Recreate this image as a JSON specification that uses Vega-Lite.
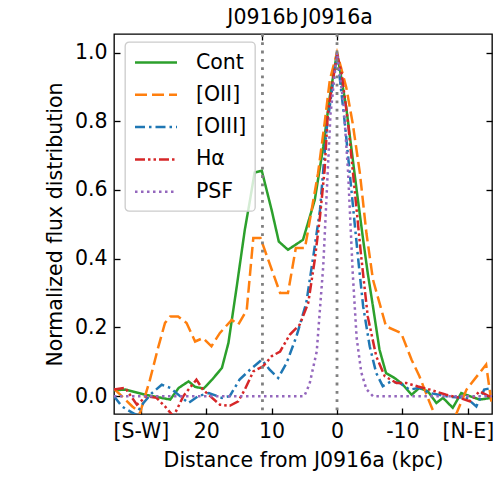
{
  "$schema": "https://vega.github.io/schema/vega-lite/v6.json",
  "width": 378,
  "height": 380,
  "autosize": {"type": "none"},
  "padding": {"left": 114, "top": 34, "right": 8, "bottom": 86},
  "background": "white",
  "config": {
    "font": "DejaVu Sans",
    "view": {"stroke": "black", "strokeWidth": 1.33},
    "axis": {
      "grid": false,
      "domain": false,
      "tickSize": -6,
      "tickColor": "black",
      "tickWidth": 1.33,
      "labelFontSize": 20.5,
      "labelColor": "black",
      "labelPadding": 13,
      "titleFontSize": 20.5,
      "titleFontWeight": "normal",
      "titleColor": "black"
    },
    "legend": {
      "orient": "none",
      "legendX": 11,
      "legendY": 8,
      "padding": 8.5,
      "cornerRadius": 4,
      "fillColor": "rgba(255,255,255,0.8)",
      "strokeColor": "#cccccc",
      "strokeWidth": 1.33,
      "symbolType": "M-1,0H3",
      "symbolSize": 441,
      "symbolStrokeWidth": 2.5,
      "labelFontSize": 20.5,
      "labelColor": "black",
      "labelOffset": 38.4,
      "rowPadding": 9.3
    }
  },
  "datasets": {
    "profiles": [
      {"s": "Cont", "x": 34.1, "y": 0.017}, {"s": "Cont", "x": 32.4, "y": 0.019}, {"s": "Cont", "x": 29.3, "y": 0.004},
      {"s": "Cont", "x": 25.5, "y": -0.01}, {"s": "Cont", "x": 24.2, "y": 0.024}, {"s": "Cont", "x": 22.7, "y": 0.043},
      {"s": "Cont", "x": 21.7, "y": 0.027}, {"s": "Cont", "x": 20.4, "y": 0.022}, {"s": "Cont", "x": 19.1, "y": 0.048},
      {"s": "Cont", "x": 17.6, "y": 0.082}, {"s": "Cont", "x": 16.6, "y": 0.155}, {"s": "Cont", "x": 15.4, "y": 0.31},
      {"s": "Cont", "x": 14.1, "y": 0.484}, {"s": "Cont", "x": 13.3, "y": 0.571}, {"s": "Cont", "x": 12.6, "y": 0.651},
      {"s": "Cont", "x": 11.5, "y": 0.656}, {"s": "Cont", "x": 10.0, "y": 0.542}, {"s": "Cont", "x": 8.9, "y": 0.45},
      {"s": "Cont", "x": 7.5, "y": 0.426}, {"s": "Cont", "x": 5.2, "y": 0.455}, {"s": "Cont", "x": 3.4, "y": 0.571},
      {"s": "Cont", "x": 2.1, "y": 0.726}, {"s": "Cont", "x": 1.1, "y": 0.872}, {"s": "Cont", "x": 0, "y": 1.0},
      {"s": "Cont", "x": -1.4, "y": 0.842}, {"s": "Cont", "x": -3.0, "y": 0.6}, {"s": "Cont", "x": -4.0, "y": 0.455},
      {"s": "Cont", "x": -4.7, "y": 0.358}, {"s": "Cont", "x": -5.5, "y": 0.261}, {"s": "Cont", "x": -6.5, "y": 0.135},
      {"s": "Cont", "x": -7.5, "y": 0.067}, {"s": "Cont", "x": -8.8, "y": 0.053}, {"s": "Cont", "x": -10.0, "y": 0.035},
      {"s": "Cont", "x": -11.4, "y": 0.004}, {"s": "Cont", "x": -12.6, "y": 0.024}, {"s": "Cont", "x": -13.9, "y": 0.014},
      {"s": "Cont", "x": -15.2, "y": -0.02}, {"s": "Cont", "x": -16.2, "y": -0.005}, {"s": "Cont", "x": -17.7, "y": -0.034},
      {"s": "Cont", "x": -19.0, "y": 0.009}, {"s": "Cont", "x": -20.3, "y": 0.0}, {"s": "Cont", "x": -21.8, "y": -0.01},
      {"s": "Cont", "x": -23.7, "y": -0.005},

      {"s": "[OII]", "x": 34.1, "y": 0.021}, {"s": "[OII]", "x": 32.9, "y": 0.0}, {"s": "[OII]", "x": 31.3, "y": -0.03},
      {"s": "[OII]", "x": 30.1, "y": -0.048}, {"s": "[OII]", "x": 28.6, "y": 0.048}, {"s": "[OII]", "x": 27.3, "y": 0.145},
      {"s": "[OII]", "x": 26.3, "y": 0.213}, {"s": "[OII]", "x": 25.5, "y": 0.232}, {"s": "[OII]", "x": 24.3, "y": 0.232},
      {"s": "[OII]", "x": 23.0, "y": 0.213}, {"s": "[OII]", "x": 21.7, "y": 0.159}, {"s": "[OII]", "x": 20.5, "y": 0.169},
      {"s": "[OII]", "x": 19.2, "y": 0.145}, {"s": "[OII]", "x": 17.9, "y": 0.184}, {"s": "[OII]", "x": 16.1, "y": 0.222},
      {"s": "[OII]", "x": 15.1, "y": 0.208}, {"s": "[OII]", "x": 13.8, "y": 0.251}, {"s": "[OII]", "x": 12.8, "y": 0.46},
      {"s": "[OII]", "x": 11.7, "y": 0.46}, {"s": "[OII]", "x": 8.7, "y": 0.3}, {"s": "[OII]", "x": 7.5, "y": 0.3},
      {"s": "[OII]", "x": 6.3, "y": 0.431}, {"s": "[OII]", "x": 4.9, "y": 0.431}, {"s": "[OII]", "x": 2.9, "y": 0.649},
      {"s": "[OII]", "x": 1.9, "y": 0.794}, {"s": "[OII]", "x": 1.1, "y": 0.92}, {"s": "[OII]", "x": 0, "y": 1.0},
      {"s": "[OII]", "x": -1.4, "y": 0.9}, {"s": "[OII]", "x": -2.4, "y": 0.794}, {"s": "[OII]", "x": -3.5, "y": 0.649},
      {"s": "[OII]", "x": -4.5, "y": 0.474}, {"s": "[OII]", "x": -5.5, "y": 0.339}, {"s": "[OII]", "x": -7.5, "y": 0.203},
      {"s": "[OII]", "x": -9.8, "y": 0.184}, {"s": "[OII]", "x": -11.4, "y": 0.106}, {"s": "[OII]", "x": -12.6, "y": 0.058},
      {"s": "[OII]", "x": -14.2, "y": -0.02}, {"s": "[OII]", "x": -15.5, "y": -0.08}, {"s": "[OII]", "x": -17.5, "y": -0.085},
      {"s": "[OII]", "x": -19.8, "y": 0.019}, {"s": "[OII]", "x": -22.8, "y": 0.092}, {"s": "[OII]", "x": -23.7, "y": -0.03},

      {"s": "[OIII]", "x": 34.1, "y": 0.0}, {"s": "[OIII]", "x": 32.9, "y": -0.03}, {"s": "[OIII]", "x": 30.8, "y": -0.054},
      {"s": "[OIII]", "x": 29.6, "y": -0.02}, {"s": "[OIII]", "x": 28.3, "y": 0.009}, {"s": "[OIII]", "x": 26.8, "y": 0.033},
      {"s": "[OIII]", "x": 25.5, "y": 0.024}, {"s": "[OIII]", "x": 24.0, "y": 0.0}, {"s": "[OIII]", "x": 22.7, "y": -0.02},
      {"s": "[OIII]", "x": 21.2, "y": 0.0}, {"s": "[OIII]", "x": 19.6, "y": 0.009}, {"s": "[OIII]", "x": 17.6, "y": -0.005},
      {"s": "[OIII]", "x": 16.4, "y": 0.0}, {"s": "[OIII]", "x": 14.9, "y": 0.048}, {"s": "[OIII]", "x": 13.3, "y": 0.077},
      {"s": "[OIII]", "x": 11.5, "y": 0.106}, {"s": "[OIII]", "x": 10.3, "y": 0.077}, {"s": "[OIII]", "x": 9.0, "y": 0.053},
      {"s": "[OIII]", "x": 7.7, "y": 0.097}, {"s": "[OIII]", "x": 6.2, "y": 0.174}, {"s": "[OIII]", "x": 4.7, "y": 0.271},
      {"s": "[OIII]", "x": 3.7, "y": 0.397}, {"s": "[OIII]", "x": 2.6, "y": 0.542}, {"s": "[OIII]", "x": 1.6, "y": 0.775},
      {"s": "[OIII]", "x": 0, "y": 0.998}, {"s": "[OIII]", "x": -1.2, "y": 0.794}, {"s": "[OIII]", "x": -2.2, "y": 0.6},
      {"s": "[OIII]", "x": -3.2, "y": 0.406}, {"s": "[OIII]", "x": -4.0, "y": 0.261}, {"s": "[OIII]", "x": -5.0, "y": 0.145},
      {"s": "[OIII]", "x": -6.0, "y": 0.067}, {"s": "[OIII]", "x": -7.0, "y": 0.029}, {"s": "[OIII]", "x": -8.3, "y": 0.043},
      {"s": "[OIII]", "x": -9.6, "y": 0.038}, {"s": "[OIII]", "x": -11.1, "y": 0.019}, {"s": "[OIII]", "x": -12.6, "y": 0.024},
      {"s": "[OIII]", "x": -14.2, "y": 0.009}, {"s": "[OIII]", "x": -17.2, "y": -0.002}, {"s": "[OIII]", "x": -19.8, "y": -0.005},
      {"s": "[OIII]", "x": -21.3, "y": -0.03}, {"s": "[OIII]", "x": -22.5, "y": 0.019}, {"s": "[OIII]", "x": -23.7, "y": 0.024},

      {"s": "Hα", "x": 34.1, "y": 0.019}, {"s": "Hα", "x": 32.4, "y": 0.024}, {"s": "Hα", "x": 30.6, "y": -0.025},
      {"s": "Hα", "x": 29.1, "y": 0.0}, {"s": "Hα", "x": 27.6, "y": -0.005}, {"s": "Hα", "x": 26.3, "y": -0.03},
      {"s": "Hα", "x": 25.0, "y": -0.059}, {"s": "Hα", "x": 23.5, "y": 0.0}, {"s": "Hα", "x": 21.5, "y": 0.048},
      {"s": "Hα", "x": 20.5, "y": 0.019}, {"s": "Hα", "x": 19.4, "y": 0.0}, {"s": "Hα", "x": 17.9, "y": -0.025},
      {"s": "Hα", "x": 16.4, "y": -0.028}, {"s": "Hα", "x": 15.1, "y": -0.015}, {"s": "Hα", "x": 14.1, "y": 0.019},
      {"s": "Hα", "x": 12.8, "y": 0.072}, {"s": "Hα", "x": 11.3, "y": 0.087}, {"s": "Hα", "x": 10.0, "y": 0.116},
      {"s": "Hα", "x": 8.7, "y": 0.13}, {"s": "Hα", "x": 7.2, "y": 0.179}, {"s": "Hα", "x": 5.7, "y": 0.208},
      {"s": "Hα", "x": 4.4, "y": 0.271}, {"s": "Hα", "x": 3.4, "y": 0.397}, {"s": "Hα", "x": 2.6, "y": 0.523},
      {"s": "Hα", "x": 1.9, "y": 0.658}, {"s": "Hα", "x": 1.4, "y": 0.823}, {"s": "Hα", "x": 0, "y": 0.995},
      {"s": "Hα", "x": -0.7, "y": 0.94}, {"s": "Hα", "x": -1.7, "y": 0.794}, {"s": "Hα", "x": -2.7, "y": 0.6},
      {"s": "Hα", "x": -3.7, "y": 0.406}, {"s": "Hα", "x": -4.7, "y": 0.232}, {"s": "Hα", "x": -6.0, "y": 0.116},
      {"s": "Hα", "x": -7.3, "y": 0.058}, {"s": "Hα", "x": -9.1, "y": 0.038}, {"s": "Hα", "x": -10.6, "y": 0.038},
      {"s": "Hα", "x": -12.4, "y": 0.028}, {"s": "Hα", "x": -14.2, "y": 0.019}, {"s": "Hα", "x": -16.7, "y": 0.004},
      {"s": "Hα", "x": -18.7, "y": -0.005}, {"s": "Hα", "x": -20.3, "y": -0.015}, {"s": "Hα", "x": -21.8, "y": 0.014},
      {"s": "Hα", "x": -23.7, "y": -0.005},

      {"s": "PSF", "x": 34.1, "y": 0.0}, {"s": "PSF", "x": 5.0, "y": 0.0}, {"s": "PSF", "x": 4.2, "y": 0.035},
      {"s": "PSF", "x": 3.1, "y": 0.13}, {"s": "PSF", "x": 2.1, "y": 0.38}, {"s": "PSF", "x": 1.0, "y": 0.82},
      {"s": "PSF", "x": 0, "y": 1.0}, {"s": "PSF", "x": -1.0, "y": 0.85}, {"s": "PSF", "x": -1.7, "y": 0.65},
      {"s": "PSF", "x": -2.4, "y": 0.36}, {"s": "PSF", "x": -3.0, "y": 0.17}, {"s": "PSF", "x": -3.7, "y": 0.07},
      {"s": "PSF", "x": -4.5, "y": 0.02}, {"s": "PSF", "x": -5.5, "y": 0.0}, {"s": "PSF", "x": -23.7, "y": 0.0}
    ],
    "markers": [{"x": 11.4, "name": "J0916b"}, {"x": 0, "name": "J0916a"}]
  },
  "layer": [
    {
      "data": {"name": "profiles"},
      "mark": {"type": "line", "strokeWidth": 2.5, "clip": true},
      "encoding": {
        "x": {
          "field": "x", "type": "quantitative",
          "scale": {"domain": [-23.7, 34.1], "reverse": true, "nice": false, "zero": false},
          "axis": {
            "orient": "bottom",
            "values": [30, 20, 10, 0, -10, -20],
            "labelExpr": "datum.value == 30 ? '[S-W]' : datum.value == -20 ? '[N-E]' : '' + datum.value",
            "title": "Distance from J0916a (kpc)",
            "titlePadding": 9
          }
        },
        "y": {
          "field": "y", "type": "quantitative",
          "scale": {"domain": [-0.052, 1.054], "nice": false, "zero": false},
          "axis": {
            "orient": "left",
            "values": [0, 0.2, 0.4, 0.6, 0.8, 1.0],
            "format": ".1f",
            "title": "Normalized flux distribution",
            "titlePadding": 9
          }
        },
        "color": {
          "field": "s", "type": "nominal",
          "scale": {
            "domain": ["Cont", "[OII]", "[OIII]", "Hα", "PSF"],
            "range": ["#2ca02c", "#ff7f0e", "#1f77b4", "#d62728", "#9467bd"]
          },
          "legend": {"title": null}
        },
        "strokeDash": {
          "field": "s", "type": "nominal",
          "scale": {
            "domain": ["Cont", "[OII]", "[OIII]", "Hα", "PSF"],
            "range": [[1, 0], [12, 5], [10, 4, 2.5, 4], [10, 3, 2.5, 3, 2.5, 3], [2.5, 3.5]]
          },
          "legend": {"title": null}
        }
      }
    },
    {
      "data": {"name": "markers"},
      "mark": {"type": "rule", "color": "#808080", "strokeWidth": 2.8, "strokeDash": [2.8, 5.5]},
      "encoding": {
        "x": {
          "field": "x", "type": "quantitative",
          "axis": {
            "orient": "top",
            "values": [11.4, 0],
            "labelExpr": "datum.value == 0 ? 'J0916a' : 'J0916b'",
            "title": null
          }
        }
      }
    },
    {
      "data": {"name": "markers"},
      "mark": {"type": "point", "opacity": 0},
      "encoding": {
        "x": {"field": "x", "type": "quantitative", "axis": null},
        "y": {
          "datum": 0, "type": "quantitative",
          "axis": {"orient": "right", "values": [0, 0.2, 0.4, 0.6, 0.8, 1.0], "labels": false, "title": null}
        }
      }
    }
  ],
  "resolve": {"axis": {"x": "independent", "y": "independent"}}
}
